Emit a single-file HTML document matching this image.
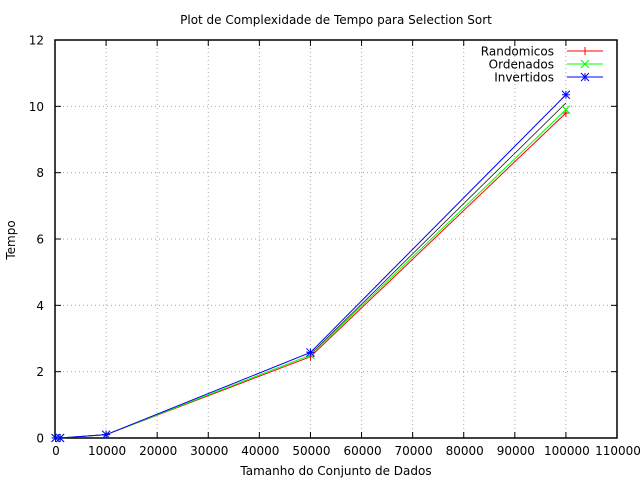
<!DOCTYPE html>
<html><head><meta charset="utf-8"><style>
body{margin:0;background:#fff;}
svg{display:block;font-family:"DejaVu Sans","Liberation Sans",sans-serif;}
</style></head><body>
<svg id="chart" width="640" height="480"></svg>
<script>
const sizes=[100,1000,10000,50000,100000];
const randomicos=[0,0,0.1,2.45,9.8];
const ordenados=[0,0,0.1,2.5,9.9];
const invertidos=[0,0,0.1,2.58,10.35];
const xTicks=[0,10000,20000,30000,40000,50000,60000,70000,80000,90000,100000,110000];
const yTicks=[0,2,4,6,8,10,12];
const L=55,R=617,T=40,B=438;
const xs=v=>L+(v/110000)*(R-L);
const ys=v=>B-(v/12)*(B-T);
const svg=document.getElementById('chart');
const NS='http://www.w3.org/2000/svg';
function mk(t,a,p){const e=document.createElementNS(NS,t);for(const k in a)e.setAttribute(k,a[k]);(p||svg).appendChild(e);return e;}
let g=mk('g',{});


xTicks.forEach(v=>{if(v>0&&v<110000)mk('line',{x1:xs(v),x2:xs(v),y1:T,y2:B,stroke:'#aaa','stroke-dasharray':'1,3','stroke-width':1},g);});
yTicks.forEach(v=>{if(v>0&&v<12)mk('line',{x1:L,x2:R,y1:ys(v),y2:ys(v),stroke:'#aaa','stroke-dasharray':'1,3','stroke-width':1},g);});
let ax=mk('g',{});


mk('rect',{x:L,y:T,width:R-L,height:B-T,fill:'none',stroke:'#000','stroke-width':1.5},ax);
xTicks.forEach(v=>{const x=xs(v);mk('line',{x1:x,x2:x,y1:B,y2:B-6,stroke:'#000'},ax);mk('line',{x1:x,x2:x,y1:T,y2:T+6,stroke:'#000'},ax);
const t=mk('text',{x:x+1,y:B+17,'text-anchor':'middle','font-size':12},ax);t.textContent=v;

});
yTicks.forEach(v=>{const y=ys(v);mk('line',{x1:L,x2:L+6,y1:y,y2:y,stroke:'#000'},ax);mk('line',{x1:R,x2:R-6,y1:y,y2:y,stroke:'#000'},ax);
const t=mk('text',{x:L-11,y:y+4.5,'text-anchor':'end','font-size':12},ax);t.textContent=v;

});
let tt=mk('text',{x:336,y:24,'text-anchor':'middle','font-size':12});tt.textContent='Plot de Complexidade de Tempo para Selection Sort';


let xt=mk('text',{x:336,y:475,'text-anchor':'middle','font-size':12});xt.textContent='Tamanho do Conjunto de Dados';


let yt=mk('text',{x:15,y:240,'text-anchor':'middle','font-size':12,transform:'rotate(-90 15 240)'});yt.textContent='Tempo';


mk('line',{x1:xs(sizes[3]),y1:ys(2.52),x2:xs(sizes[4]),y2:ys(10.1),stroke:'#000','stroke-width':0.7});
function marker(p,type,x,y,c){
 if(type==='plus'){mk('path',{d:`M${x-4},${y}h8M${x},${y-4}v8`,stroke:c,'stroke-width':1,fill:'none'},p);}
 else if(type==='x'){mk('path',{d:`M${x-4},${y-4}l8,8M${x-4},${y+4}l8,-8`,stroke:c,'stroke-width':1,fill:'none'},p);}
 else {mk('path',{d:`M${x-4},${y}h8M${x},${y-4}v8M${x-4},${y-4}l8,8M${x-4},${y+4}l8,-8`,stroke:c,'stroke-width':1,fill:'none'},p);}
}
const series=[['Randomicos',randomicos,'#f00','plus','series-randomicos'],['Ordenados',ordenados,'#0f0','x','series-ordenados'],['Invertidos',invertidos,'#00f','star','series-invertidos']];
series.forEach((s,i)=>{
 const sg=mk('g',{});
 
 
 mk('polyline',{points:sizes.map((v,j)=>xs(v)+','+ys(s[1][j])).join(' '),fill:'none',stroke:s[2],'stroke-width':1},sg);
 sizes.forEach((v,j)=>marker(sg,s[3],xs(v),ys(s[1][j]),s[2]));
 const lg=mk('g',{});
 
 
 const ly=51+i*13;
 const t=mk('text',{x:554,y:ly+4.5,'text-anchor':'end','font-size':12},lg);t.textContent=s[0];
 mk('line',{x1:567,x2:603,y1:ly,y2:ly,stroke:s[2],'stroke-width':1},lg);
 marker(lg,s[3],585,ly,s[2]);
});
</script>
</body></html>
